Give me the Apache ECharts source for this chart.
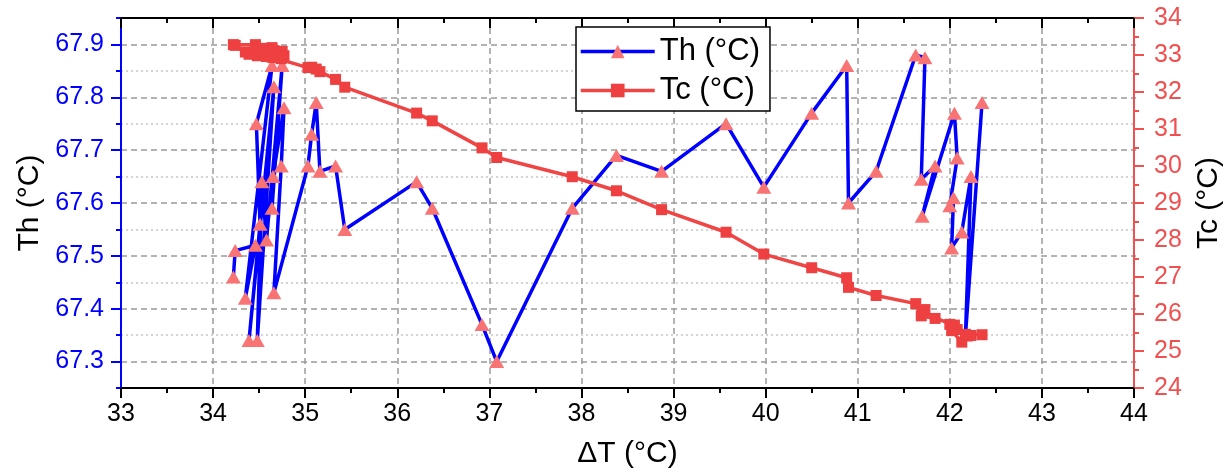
<!DOCTYPE html>
<html>
<head>
<meta charset="utf-8">
<script src="https://cdn.jsdelivr.net/npm/echarts@6/dist/echarts.min.js"></script>
<style>
  html, body { margin: 0; padding: 0; background: #ffffff; }
  #chart { width: 1232px; height: 475px; }
</style>
</head>
<body>
<div id="chart"></div>
<script>
// Temperature difference ΔT (°C), in measurement order
const deltaT = [
  34.22, 34.24, 34.46, 34.35, 34.64, 34.47, 34.51, 34.39, 34.66, 34.48,
  34.53, 34.58, 34.75, 34.64, 34.65, 34.77, 34.74, 34.66,
  35.03, 35.07, 35.12, 35.16, 35.33, 35.43, 36.21, 36.38, 36.92, 37.08,
  37.90, 38.38, 38.87, 39.57, 39.98, 40.50, 40.88, 40.90, 41.20,
  41.63, 41.73, 41.69, 41.84, 41.70, 42.05, 42.08, 42.00, 42.04, 42.02,
  42.13, 42.23, 42.17, 42.35
];

// Hot-side temperature Th (°C)
const thValues = [
  67.46, 67.51, 67.52, 67.42, 67.86, 67.75, 67.56, 67.34, 67.82, 67.34,
  67.64, 67.53, 67.86, 67.59, 67.65, 67.78, 67.67, 67.43,
  67.67, 67.73, 67.79, 67.66, 67.67, 67.55, 67.64, 67.59, 67.37, 67.30,
  67.59, 67.69, 67.66, 67.75, 67.63, 67.77, 67.86, 67.60, 67.66,
  67.88, 67.875, 67.645, 67.67, 67.575, 67.77, 67.685, 67.595, 67.61, 67.515,
  67.545, 67.65, 67.35, 67.79
];

// Cold-side temperature Tc (°C)
const tcValues = [
  33.28, 33.26, 33.28, 33.08, 33.20, 33.06, 33.14, 33.02, 33.12, 32.98,
  33.18, 32.96, 33.10, 32.94, 33.04, 32.98, 32.90, 32.93,
  32.66, 32.67, 32.62, 32.55, 32.34, 32.13, 31.43, 31.22, 30.49, 30.23,
  29.71, 29.33, 28.82, 28.21, 27.62, 27.25, 26.98, 26.72, 26.50,
  26.28, 26.12, 25.95, 25.88, 26.02, 25.70, 25.58, 25.72, 25.62, 25.55,
  25.24, 25.42, 25.45, 25.44
];

const seriesNames = ['Th (°C)', 'Tc (°C)'];

const FONT = '"Liberation Sans", Arial, Helvetica, sans-serif';
const BLUE = '#0000ff';
const RED_AXIS = '#f05050';
const RED_LINE = '#ef4545';
const TRI_FILL = '#f87474';
const SQ_FILL = '#ee4040';
const GRID_MAJOR = '#9a9a9a';
const GRID_MINOR = '#c6c6c6';

const thPoints = deltaT.map((x, i) => [x, thValues[i]]);
const tcPoints = deltaT.map((x, i) => [x, tcValues[i]]);

const chart = echarts.init(document.getElementById('chart'), null, { renderer: 'canvas' });

chart.setOption({
  animation: false,
  backgroundColor: '#ffffff',
  // grid 0 holds the data; grid 1 spans 67.3..67.9 exactly and carries the labelled Th ticks
  grid: [
    { left: 121, right: 96, top: 18, bottom: 87 },
    { left: 121, right: 96, top: 44.43, bottom: 113.43 }
  ],
  legend: {
    orient: 'vertical',
    left: 576,
    top: 27,
    data: seriesNames,
    itemWidth: 74,
    itemHeight: 17,
    itemGap: 8,
    padding: [9, 10, 5, 3],
    backgroundColor: '#ffffff',
    borderColor: '#000000',
    borderWidth: 1.5,
    borderRadius: 0,
    lineStyle: { width: 3.5 },
    textStyle: { fontSize: 31, fontFamily: FONT, color: '#000000', lineHeight: 31 }
  },
  xAxis: [
    {
      type: 'value', gridIndex: 0, position: 'bottom',
      min: 33, max: 44, interval: 1,
      axisLine: { lineStyle: { color: '#000000', width: 2 } },
      axisTick: { length: 10, lineStyle: { color: '#000000', width: 2 } },
      minorTick: { show: true, splitNumber: 2, length: 5, lineStyle: { color: '#000000', width: 2 } },
      axisLabel: { color: '#000000', fontSize: 25, fontFamily: FONT, margin: 14 },
      splitLine: { show: true, lineStyle: { color: GRID_MAJOR, width: 1.5, type: [6, 4] } },
      name: 'ΔT (°C)', nameLocation: 'middle', nameGap: 51,
      nameTextStyle: { fontSize: 30, fontFamily: FONT, color: '#000000' }
    },
    {
      type: 'value', gridIndex: 0, position: 'top',
      min: 33, max: 44, interval: 1,
      axisLine: { lineStyle: { color: '#000000', width: 2 } },
      axisTick: { inside: true, length: 10, lineStyle: { color: '#000000', width: 2 } },
      minorTick: { show: true, splitNumber: 2, length: 5, lineStyle: { color: '#000000', width: 2 } },
      axisLabel: { show: false },
      splitLine: { show: false }
    },
    { type: 'value', gridIndex: 1, min: 33, max: 44, show: false }
  ],
  yAxis: [
    {
      // Th scale used by the data; every 0.05 step gets a short tick and alternate dotted lines
      type: 'value', gridIndex: 0, position: 'left',
      min: 67.25, max: 67.95, interval: 0.05,
      axisLine: { lineStyle: { color: BLUE, width: 2 } },
      axisTick: { length: 5, lineStyle: { color: BLUE, width: 2 } },
      axisLabel: { show: false },
      splitLine: {
        show: true,
        lineStyle: { color: [GRID_MINOR, 'rgba(0,0,0,0)'], width: 1.5, type: [2, 3] }
      }
    },
    {
      type: 'value', gridIndex: 0, position: 'right',
      min: 24, max: 34, interval: 1,
      axisLine: { lineStyle: { color: RED_AXIS, width: 2 } },
      axisTick: { length: 10, lineStyle: { color: RED_AXIS, width: 2 } },
      minorTick: { show: true, splitNumber: 2, length: 5, lineStyle: { color: RED_AXIS, width: 2 } },
      axisLabel: { color: RED_AXIS, fontSize: 25, fontFamily: FONT, margin: 20 },
      splitLine: { show: false },
      name: 'Tc (°C)', nameLocation: 'middle', nameGap: 60, nameRotate: 90,
      nameTextStyle: { fontSize: 30, fontFamily: FONT, color: '#000000' }
    },
    {
      // labelled Th ticks every 0.1 with dashed major grid lines
      type: 'value', gridIndex: 1, position: 'left',
      min: 67.3, max: 67.9, interval: 0.1,
      axisLine: { show: false },
      axisTick: { length: 10, lineStyle: { color: BLUE, width: 2 } },
      axisLabel: {
        color: BLUE, fontSize: 25, fontFamily: FONT, margin: 17,
        formatter: v => v.toFixed(1)
      },
      splitLine: { show: true, lineStyle: { color: GRID_MAJOR, width: 1.5, type: [6, 4] } },
      name: 'Th (°C)', nameLocation: 'middle', nameGap: 76, nameRotate: 90,
      nameTextStyle: { fontSize: 30, fontFamily: FONT, color: '#000000' }
    }
  ],
  series: [
    {
      name: seriesNames[0], type: 'line',
      xAxisIndex: 0, yAxisIndex: 0,
      data: thPoints,
      symbol: 'triangle', symbolSize: [15, 13], showAllSymbol: true,
      lineStyle: { color: BLUE, width: 3.5 },
      itemStyle: { color: TRI_FILL },
      z: 2
    },
    {
      name: seriesNames[1], type: 'line',
      xAxisIndex: 0, yAxisIndex: 1,
      data: tcPoints,
      symbol: 'rect', symbolSize: 11, showAllSymbol: true,
      lineStyle: { color: RED_LINE, width: 3.5 },
      itemStyle: { color: SQ_FILL },
      z: 3
    }
  ]
});
</script>
</body>
</html>
